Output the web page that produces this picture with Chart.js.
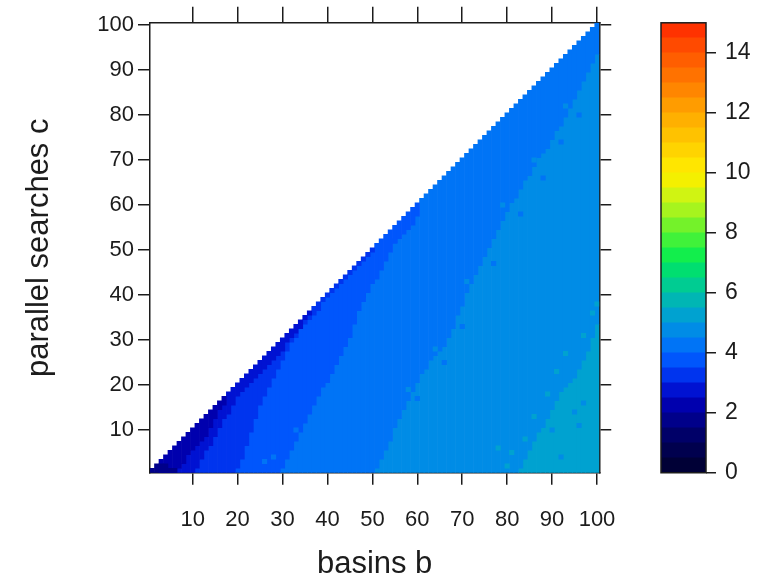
<!DOCTYPE html>
<html>
<head>
<meta charset="utf-8">
<script src="https://cdn.jsdelivr.net/npm/chart.js@4.4.1/dist/chart.umd.min.js"></script>
<style>
  html, body { margin: 0; padding: 0; background: #fff; }
  #wrap { position: relative; width: 773px; height: 583px; }
  #heat { position: absolute; left: 0; top: 0; }
  #key { position: absolute; left: 640px; top: 0; }
</style>
</head>
<body>
<div id="wrap">
  <canvas id="heat" width="773" height="583"></canvas>
  <canvas id="key" width="133" height="583"></canvas>
</div>
<script>
// colour key: 30 bins of width 0.5 from 0 to 15 (bottom to top)
const keyStep = 0.5;
const keyColors = [
  "#000036", "#00004E", "#000068", "#00008A", "#0000AE",
  "#0012D2", "#0034EE", "#0056FC", "#0074F6", "#008CE6",
  "#00A2D0", "#00B6B4", "#00CC92", "#00DE70", "#12EE4C",
  "#40F23A", "#74F22A", "#A6F41E", "#D0F412", "#F4F000",
  "#FFE600", "#FFD400", "#FFC200", "#FFB000", "#FF9C00",
  "#FF8600", "#FF7200", "#FF5E00", "#FF4A00", "#FF3200",
];
const keyTicks = [0, 2, 4, 6, 8, 10, 12, 14];
const axisTicks = [10, 20, 30, 40, 50, 60, 70, 80, 90, 100];

// basins b (columns); each column holds c = 1..b
const basins = [];
for (let b = 1; b <= 100; b++) basins.push(b);

// value of each band, darkest first
const bandValues = [1.75, 2.25, 2.75, 3.25, 3.75, 4.25, 4.75, 5.25];

// highest c reaching the band (or any lighter one), column by column from "from";
// before "from": nothing, past the end of the list: the whole column
const top225 = { from: 1, tops: [0, 0] };
const top275 = { from: 7, tops: [1, 2, 4, 5, 6, 7, 8, 10, 12, 14, 15] };
const top325 = { from: 11, tops: [1, 3, 5, 6, 8, 10, 12, 13, 15, 17, 18, 19, 20, 21, 22, 23, 24, 25, 26, 27, 29, 30, 31, 32, 34, 35] };
const top375 = { from: 20, tops: [1, 3, 6, 9, 12, 15, 17, 19, 21, 23, 25, 27, 29, 30, 32, 33, 34, 35, 36, 38, 39, 40, 41, 42, 43, 44, 45, 46, 47, 48, 49] };
const top425 = { from: 30, tops: [1, 3, 5, 7, 9, 11, 13, 15, 17, 19, 20, 22, 24, 26, 28, 30, 33, 36, 38, 40, 42, 43, 45, 47, 49, 51, 52, 53, 54, 55, 57] };
const top475 = { from: 51, tops: [1, 3, 5, 7, 10, 12, 14, 16, 18, 20, 22, 23, 25, 26, 27, 28, 30, 32, 35, 37, 40, 42, 44, 46, 48, 50, 52, 54, 56, 58, 60, 61, 63, 65, 66, 68, 70, 71, 72, 74, 76, 77, 79, 81, 83, 85, 87, 89, 91, 93] };
const top525 = { from: 83, tops: [1, 3, 5, 7, 9, 10, 12, 14, 16, 18, 19, 20, 21, 23, 25, 27, 30, 33] };
const bandTops = [top225, top275, top325, top375, top425, top475, top525];

// single cells that stand out from their band
const spotB = [3, 3, 4, 4, 5, 6, 78, 81, 80, 84, 86, 89, 91, 93, 97, 99, 100, 92, 96, 95, 90, 97, 60, 66, 70, 77, 83, 88, 92, 96, 58, 64, 71, 79, 86, 93, 36, 40, 48, 55, 26, 28, 33];
const spotC = [1, 2, 1, 2, 1, 1, 6, 5, 2, 8, 13, 18, 23, 27, 31, 36, 38, 4, 11, 14, 10, 16, 17, 25, 33, 47, 58, 66, 74, 80, 19, 28, 43, 60, 70, 82, 15, 22, 40, 52, 3, 4, 10];
const spotV = [1.75, 1.75, 1.75, 1.75, 1.75, 1.75, 5.25, 5.25, 5.25, 5.25, 5.25, 5.25, 5.25, 5.25, 5.25, 5.25, 5.25, 4.75, 4.75, 4.75, 4.75, 4.75, 4.25, 4.25, 4.25, 4.25, 4.25, 4.25, 4.25, 4.25, 4.75, 4.75, 4.75, 4.75, 4.75, 4.75, 3.75, 3.75, 3.75, 3.75, 4.25, 4.25, 4.25];

const ink = "#1c1c1c";
const fontFamily = "'Liberation Sans', Arial, sans-serif";
const tickFont = { family: fontFamily, size: 22 };
const keyFont = { family: fontFamily, size: 23 };
const titleFont = { family: fontFamily, size: 31 };

function colorFor(v) {
    return keyColors[Math.min(keyColors.length - 1, Math.floor(v / keyStep))];
}

function bandTop(k, b) {
    const t = bandTops[k];
    if (b < t.from) return 0;
    const i = b - t.from;
    return i < t.tops.length ? t.tops[i] : b;
}

const bandData = bandValues.map(() => []);
basins.forEach(b => {
    for (let j = 0; j < bandValues.length; j++) {
        const hi = j === 0 ? b : bandTop(j - 1, b);
        const lo = j === bandValues.length - 1 ? 0 : bandTop(j, b);
        if (hi > lo) bandData[j].push({ x: b, y: [lo + 0.5, hi + 0.5] });
    }
});

const datasets = bandValues.map((v, j) => ({
    label: String(v),
    data: bandData[j],
    backgroundColor: colorFor(v),
    order: 1,
}));

const spotValues = [...new Set(spotV)];
spotValues.forEach(v => {
    const pts = [];
    spotV.forEach((sv, i) => { if (sv === v) pts.push({ x: spotB[i], y: [spotC[i] - 0.5, spotC[i] + 0.5] }); });
    datasets.push({ label: "spot " + v, data: pts, backgroundColor: colorFor(v), order: 0 });
});

const setTicks = list => scale => { scale.ticks = list.map(v => ({ value: v })); };

function sideAxis(position, size, tickLength) {
    const horiz = position === "top" || position === "bottom";
    return {
        type: "linear",
        position,
        min: 0.5,
        max: 100.5,
        offset: false,
        afterBuildTicks: setTicks(axisTicks),
        afterFit: s => { if (horiz) s.height = size; else s.width = size; },
        grid: { drawOnChartArea: false, offset: false, tickLength, color: ink, lineWidth: 1.5 },
        border: { color: ink, width: 1.5 },
        ticks: { display: false },
    };
}

const xAxis = sideAxis("bottom", 583 - 472.75, 12);
xAxis.ticks = { display: true, font: tickFont, color: ink, padding: 22, maxRotation: 0, autoSkip: false };
xAxis.title = { display: true, text: "basins b", font: titleFont, color: ink, padding: { top: 0, bottom: 0 } };

const yAxis = sideAxis("left", 150, 12);
yAxis.ticks = { display: true, font: tickFont, color: ink, padding: 4, autoSkip: false };
yAxis.title = { display: true, text: "parallel searches c", font: titleFont, color: ink, padding: { top: 21, bottom: 0 } };

new Chart(document.getElementById("heat"), {
    type: "bar",
    data: { datasets },
    options: {
        responsive: false,
        animation: false,
        events: [],
        layout: { padding: 0 },
        datasets: { bar: { grouped: false, barPercentage: 1, categoryPercentage: 1, borderWidth: 0 } },
        plugins: { legend: { display: false }, tooltip: { enabled: false } },
        scales: {
            x: xAxis,
            y: yAxis,
            xTop: sideAxis("top", 22.75, 16),
            yRight: sideAxis("right", 773 - 599.25, 12),
        },
    },
});

// colour key
const frame = {
    id: "frame",
    afterDatasetsDraw(chart) {
        const { ctx, chartArea: a } = chart;
        ctx.save();
        ctx.strokeStyle = ink;
        ctx.lineWidth = 1.5;
        ctx.strokeRect(a.left, a.top, a.right - a.left, a.bottom - a.top);
        ctx.restore();
    },
};

new Chart(document.getElementById("key"), {
    type: "bar",
    data: {
        labels: [""],
        datasets: keyColors.map((col, i) => ({ data: [[i * keyStep, (i + 1) * keyStep]], backgroundColor: col })),
    },
    options: {
        responsive: false,
        animation: false,
        events: [],
        layout: { padding: { left: 21, top: 22.75, bottom: 583 - 472.75, right: 0 } },
        datasets: { bar: { grouped: false, barPercentage: 1, categoryPercentage: 1, borderWidth: 0 } },
        plugins: { legend: { display: false }, tooltip: { enabled: false } },
        scales: {
            x: { display: false },
            y: {
                position: "right",
                min: 0,
                max: 15,
                afterBuildTicks: setTicks(keyTicks),
                afterFit: s => { s.width = 133 - 21 - 45; },
                grid: { drawOnChartArea: false, tickLength: 10, color: ink, lineWidth: 1.5 },
                border: { display: false },
                ticks: { font: keyFont, color: ink, padding: 9 },
            },
        },
    },
    plugins: [frame],
});
</script>
</body>
</html>
